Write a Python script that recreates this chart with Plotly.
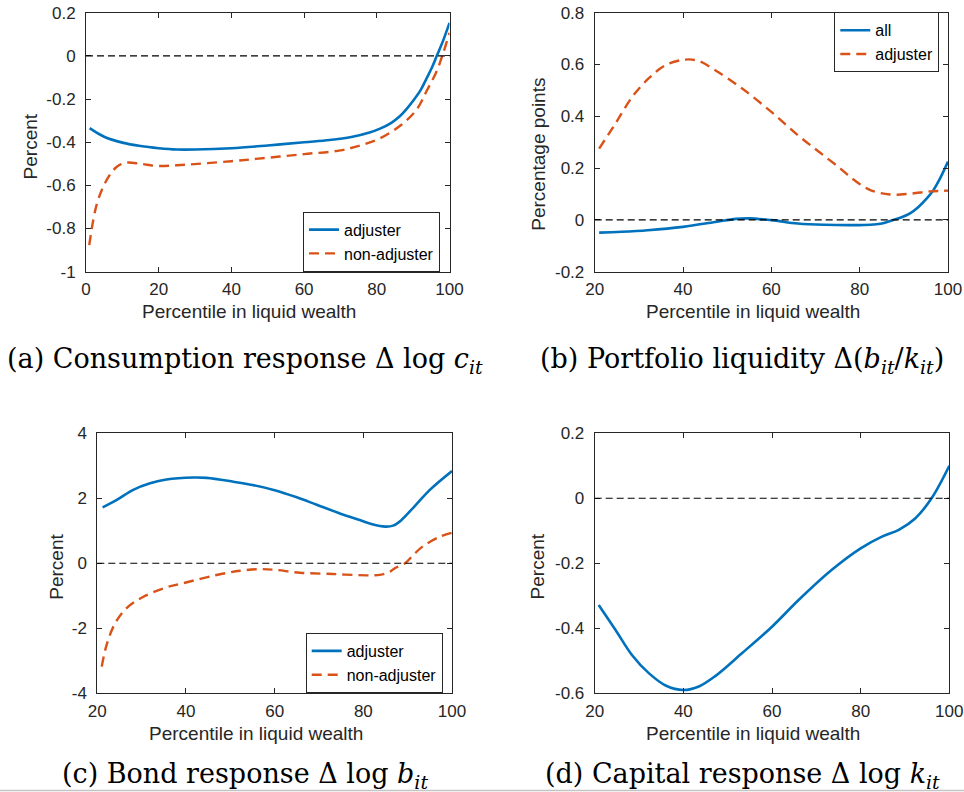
import plotly.graph_objects as go
from plotly.subplots import make_subplots

# ---------------- data ----------------
# (a) Consumption response, by percentile of liquid wealth
pct_a_adj = [1, 5, 10, 15, 20, 25, 30, 40, 50, 60, 67, 73, 78, 80.9, 84, 86.4, 88, 90, 92, 93.7, 95,
             96.5, 98.3, 100]
cons_adj = [-0.335, -0.375, -0.402, -0.418, -0.428, -0.434, -0.434, -0.428, -0.415, -0.400, -0.39,
            -0.376, -0.355, -0.337, -0.31, -0.279, -0.25, -0.208, -0.16, -0.104, -0.06, 0.0, 0.073, 0.153]
pct_a_non = [0.9, 3, 5.7, 8.4, 11, 15, 19.5, 25, 40, 50, 60, 70, 75.4, 80.9, 86.4, 91, 93.7, 96.5,
             98.3, 100]
cons_non = [-0.877, -0.685, -0.575, -0.515, -0.495, -0.50, -0.51, -0.507, -0.488, -0.472, -0.455,
            -0.438, -0.415, -0.382, -0.324, -0.248, -0.163, -0.07, 0.015, 0.107]

# (b) Portfolio liquidity
pct_b_all = [21, 26, 32, 40, 47.3, 52, 55, 60, 66, 72, 80, 83.1, 85, 87.6, 89.5, 91.4, 93.3, 95.2,
             96.7, 98.2, 100]
liq_all = [-0.049, -0.046, -0.04, -0.027, -0.008, 0.004, 0.006, -0.001, -0.014, -0.019, -0.02, -0.018,
           -0.014, 0.0, 0.01, 0.025, 0.05, 0.083, 0.115, 0.16, 0.225]
pct_b_adj = [21, 24.7, 28.5, 32.2, 36, 40.5, 43.5, 47.3, 53.4, 60, 66, 71, 75.5, 78.6, 82.3, 86.9,
             91.4, 95.9, 100]
liq_adj = [0.275, 0.372, 0.475, 0.546, 0.597, 0.619, 0.614, 0.578, 0.507, 0.417, 0.327, 0.26, 0.2,
           0.156, 0.116, 0.098, 0.101, 0.11, 0.113]

# (c) Bond response
pct_c_adj = [21.2, 24.4, 28.1, 31.9, 35.6, 41.7, 44.7, 50.7, 55, 60, 65, 69.5, 75, 79.2, 82, 85, 86.7,
             88.5, 91.6, 95, 100]
bond_adj = [1.72, 1.95, 2.26, 2.46, 2.58, 2.64, 2.63, 2.51, 2.41, 2.25, 2.03, 1.8, 1.52, 1.33, 1.2,
            1.13, 1.16, 1.32, 1.76, 2.26, 2.84]
pct_c_non = [21, 22.1, 24, 26.6, 30.4, 35.6, 40, 46.9, 52.2, 56.7, 60, 65.7, 73.2, 80.8, 84, 86,
             87.1, 89.4, 91.3, 93.5, 97.3, 100]
bond_non = [-3.18, -2.51, -1.85, -1.38, -1.03, -0.74, -0.59, -0.36, -0.23, -0.18, -0.20, -0.29, -0.33,
            -0.37, -0.35, -0.26, -0.15, 0.0, 0.26, 0.53, 0.82, 0.94]

# (d) Capital response
pct_d = [20.9, 24.7, 28.4, 32.2, 36, 40, 43.5, 47.2, 53.2, 60, 66, 73.5, 80, 84.8, 88.6, 92.3, 96, 100]
cap = [-0.328, -0.405, -0.482, -0.538, -0.576, -0.59, -0.579, -0.547, -0.477, -0.395, -0.313, -0.22,
       -0.154, -0.118, -0.097, -0.062, 0.0, 0.1]

# axis ticks
xt_a = [0, 20, 40, 60, 80, 100]
xt_bcd = [20, 40, 60, 80, 100]
yt_a = [-1, -0.8, -0.6, -0.4, -0.2, 0, 0.2]
yt_a_txt = ["-1", "-0.8", "-0.6", "-0.4", "-0.2", "0", "0.2"]
yt_b = [-0.2, 0, 0.2, 0.4, 0.6, 0.8]
yt_b_txt = ["-0.2", "0", "0.2", "0.4", "0.6", "0.8"]
yt_c = [-4, -2, 0, 2, 4]
yt_c_txt = ["-4", "-2", "0", "2", "4"]
yt_d = [-0.6, -0.4, -0.2, 0, 0.2]
yt_d_txt = ["-0.6", "-0.4", "-0.2", "0", "0.2"]

x_title = "Percentile in liquid wealth"
y_titles = ["Percent", "Percentage points", "Percent", "Percent"]
captions = [
    "(a) Consumption response \u0394 log <i>c</i><sub><i>it</i></sub>",
    "(b) Portfolio liquidity \u0394(<i>b</i><sub><i>it</i></sub>/<i>k</i><sub><i>it</i></sub>)",
    "(c) Bond response \u0394 log <i>b</i><sub><i>it</i></sub>",
    "(d) Capital response \u0394 log <i>k</i><sub><i>it</i></sub>",
]

# ---------------- style ----------------
BLUE = "#0072BD"
ORANGE = "#D95319"
AXC = "#262626"
W, H = 964, 792
SANS = "Liberation Sans, Arial, sans-serif"
SERIF = "DejaVu Serif, serif"

fig = make_subplots(rows=2, cols=2)


def solid(x, y, name, legend, show=True):
    return go.Scatter(x=x, y=y, name=name, mode="lines",
                      line=dict(color=BLUE, width=2.6, shape="spline", smoothing=1.0),
                      legend=legend, showlegend=show)


def dashed(x, y, name, legend):
    return go.Scatter(x=x, y=y, name=name, mode="lines",
                      line=dict(color=ORANGE, width=2.4, dash="10px,6px", shape="spline", smoothing=1.0),
                      legend=legend)


fig.add_trace(solid(pct_a_adj, cons_adj, "adjuster", "legend"), 1, 1)
fig.add_trace(dashed(pct_a_non, cons_non, "non-adjuster", "legend"), 1, 1)
fig.add_trace(solid(pct_b_all, liq_all, "all", "legend2"), 1, 2)
fig.add_trace(dashed(pct_b_adj, liq_adj, "adjuster", "legend2"), 1, 2)
fig.add_trace(solid(pct_c_adj, bond_adj, "adjuster", "legend3"), 2, 1)
fig.add_trace(dashed(pct_c_non, bond_non, "non-adjuster", "legend3"), 2, 1)
fig.add_trace(solid(pct_d, cap, "capital", "legend", show=False), 2, 2)

# pixel boxes of the four panels: (left, right, top, bottom)
boxes = {
    (1, 1): (86, 449.5, 12.7, 271.7),
    (1, 2): (594.7, 948, 12.7, 271.7),
    (2, 1): (97.3, 452, 433.3, 693.3),
    (2, 2): (594.7, 949.3, 433.3, 693.3),
}
ranges = {
    (1, 1): ([0, 100], [-1, 0.2], xt_a, yt_a, yt_a_txt),
    (1, 2): ([20, 100], [-0.2, 0.8], xt_bcd, yt_b, yt_b_txt),
    (2, 1): ([20, 100], [-4, 4], xt_bcd, yt_c, yt_c_txt),
    (2, 2): ([20, 100], [-0.6, 0.2], xt_bcd, yt_d, yt_d_txt),
}

axis_common = dict(showgrid=False, zeroline=False, showline=True, linecolor=AXC, linewidth=1,
                   mirror="ticks", ticks="inside", ticklen=5, tickcolor=AXC, automargin=False,
                   tickfont=dict(family=SANS, size=17, color=AXC))

for (r, c), (l, rt, t, b) in boxes.items():
    xr, yr, xt, yt, ytt = ranges[(r, c)]
    fig.update_xaxes(domain=[l / W, rt / W], range=xr, tickvals=xt, ticktext=[str(v) for v in xt],
                     ticklabelstandoff=2, **axis_common, row=r, col=c)
    fig.update_yaxes(domain=[1 - b / H, 1 - t / H], range=yr, tickvals=yt, ticktext=ytt,
                     ticklabelstandoff=6, **axis_common, row=r, col=c)
    # dashed zero reference line
    fig.add_hline(y=0, line=dict(color="black", width=1.1, dash="7px,4px"), row=r, col=c)

legend_style = dict(font=dict(family=SANS, size=16, color="black"), bgcolor="white",
                    bordercolor=AXC, borderwidth=1, xanchor="right", yanchor="middle",
                    tracegroupgap=0, itemwidth=30)

annotations = []
# captions below each panel
caption_pos = [(245, 360), (742, 360), (245, 775), (742, 775)]
for text, (cx, cy) in zip(captions, caption_pos):
    annotations.append(dict(text=text, x=cx / W, y=1 - cy / H, xref="paper", yref="paper",
                            showarrow=False, xanchor="center", yanchor="middle",
                            font=dict(family=SERIF, size=27, color="black")))
# axis titles
xtitle_pos = [(249, 311.7), (752.8, 311.7), (255.8, 733), (752.8, 733)]
for cx, cy in xtitle_pos:
    annotations.append(dict(text=x_title, x=cx / W, y=1 - cy / H, xref="paper", yref="paper",
                            showarrow=False, xanchor="center", yanchor="middle",
                            font=dict(family=SANS, size=19, color=AXC)))
ytitle_pos = [(30.7, 146.7), (538.7, 154), (57, 566.7), (537.7, 566.7)]
for text, (cx, cy) in zip(y_titles, ytitle_pos):
    annotations.append(dict(text=text, x=cx / W, y=1 - cy / H, xref="paper", yref="paper",
                            showarrow=False, xanchor="center", yanchor="middle", textangle=-90,
                            font=dict(family=SANS, size=19, color=AXC)))

fig.update_layout(
    width=W, height=H, margin=dict(l=0, r=0, t=0, b=0, autoexpand=False),
    plot_bgcolor="white", paper_bgcolor="white",
    legend=dict(x=440 / W, y=1 - 241.7 / H, **legend_style),
    legend2=dict(x=939.3 / W, y=1 - 42.3 / H, **legend_style),
    legend3=dict(x=442.7 / W, y=1 - 663 / H, **legend_style),
    annotations=annotations,
)

# thin rule along the bottom edge of the page
fig.add_shape(type="line", xref="paper", yref="paper", x0=0, x1=1, y0=1 - 790.5 / H, y1=1 - 790.5 / H,
              line=dict(color="#c4c4c4", width=1.5))

fig.write_html("out.html")
